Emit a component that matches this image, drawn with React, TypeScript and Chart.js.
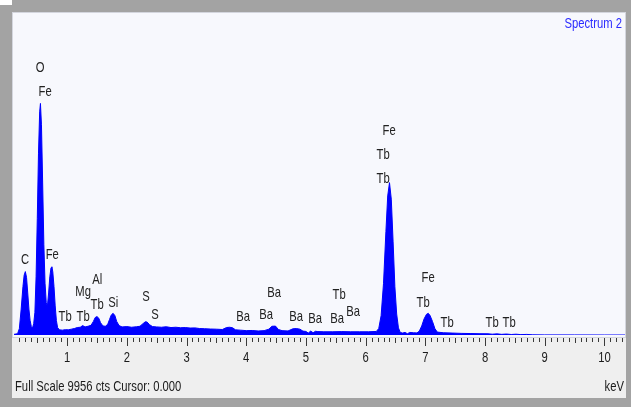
import { useEffect, useRef } from "react";
import { Chart, registerables } from "chart.js";

Chart.register(...registerables);

// Spectrum (keV, counts)
const energies = [
  0.11, 0.17, 0.2, 0.23, 0.26, 0.28, 0.3, 0.32, 0.34, 0.36, 0.38, 0.4, 0.42, 0.44, 0.46, 0.48,
  0.5, 0.52, 0.54, 0.553, 0.57, 0.59, 0.61, 0.63, 0.65, 0.67, 0.69, 0.71, 0.73, 0.745, 0.76,
  0.78, 0.8, 0.82, 0.84, 0.87, 0.92, 0.97, 1.02, 1.07, 1.12, 1.17, 1.22, 1.26, 1.3, 1.35, 1.4,
  1.44, 1.47, 1.5, 1.53, 1.56, 1.6, 1.64, 1.68, 1.71, 1.74, 1.77, 1.8, 1.83, 1.87, 1.92, 2.0,
  2.08, 2.16, 2.22, 2.27, 2.31, 2.34, 2.38, 2.43, 2.5, 2.58, 2.66, 2.74, 2.82, 2.9, 2.98, 3.06,
  3.14, 3.22, 3.3, 3.4, 3.5, 3.6, 3.67, 3.72, 3.77, 3.82, 3.9, 4.0, 4.1, 4.2, 4.3, 4.38, 4.43,
  4.49, 4.54, 4.6, 4.7, 4.78, 4.84, 4.9, 4.95, 5.0, 5.04, 5.08, 5.12, 5.16, 5.2, 5.3, 5.45, 5.6,
  5.75, 5.9, 6.05, 6.18, 6.22, 6.26, 6.3, 6.34, 6.37, 6.4, 6.43, 6.46, 6.49, 6.52, 6.55, 6.58,
  6.62, 6.66, 6.7, 6.74, 6.8, 6.86, 6.9, 6.94, 6.98, 7.02, 7.05, 7.08, 7.12, 7.16, 7.2, 7.3,
  7.45, 7.6, 7.75, 7.9, 8.05, 8.12, 8.2, 8.28, 8.36, 8.44, 8.52, 8.6, 8.7, 8.8, 9.0, 9.5, 10.0,
  10.345,
];
const counts = [
  20, 40, 200, 800, 1500, 1850, 1960, 1780, 1300, 800, 450, 260, 220, 350, 700, 1800,
  3600, 5600, 6900, 7160, 6500, 4700, 2800, 1600, 1000, 900, 1300, 1800, 2080, 2110, 1950,
  1500, 900, 450, 230, 160, 150, 165, 160, 180, 200, 230, 240, 290, 250, 270, 300,
  420, 540, 570, 520, 380, 280, 270, 330, 480, 620, 670, 600, 420, 290, 250, 260,
  240, 255, 270, 350, 410, 400, 320, 260, 250, 240, 255, 230, 240, 225, 230, 215,
  220, 200, 195, 185, 180, 170, 230, 240, 225, 160, 150, 135, 140, 125, 135, 180, 270,
  275, 170, 135, 125, 190, 200, 180, 120, 110, 60, 120, 70, 115, 105, 100, 100, 105,
  100, 100, 100, 110, 200, 600, 1600, 3200, 4300, 4710, 4200, 2900, 1500, 650, 220, 80,
  60, 80, 40, 80, 70, 65, 120, 280, 500, 640, 670, 600, 420, 200, 90, 70,
  60, 50, 45, 40, 38, 25, 35, 20, 30, 15, 25, 12, 18, 5, 3, 2, 0,
  0,
];

// Peak labels: text, keV position, counts level
const labelTexts = [
  "C", "O", "Fe", "Fe", "Tb", "Tb", "Mg", "Al", "Tb", "Si", "S", "S",
  "Ba", "Ba", "Ba", "Ba", "Ba", "Tb", "Ba", "Ba",
  "Fe", "Tb", "Tb", "Fe", "Tb", "Tb", "Tb", "Tb",
];
const labelKeV = [
  0.296, 0.548, 0.631, 0.75, 0.966, 1.268, 1.268, 1.503, 1.503, 1.771, 2.323, 2.474,
  3.948, 4.333, 4.467, 4.836, 5.154, 5.556, 5.523, 5.79,
  6.394, 6.293, 6.293, 7.047, 6.963, 7.365, 8.119, 8.404,
];
const labelCts = [
  2319, 8256, 7514, 2474, 557, 557, 1330, 1700, 928, 989, 1175, 618,
  557, 618, 1299, 557, 495, 1237, 495, 711,
  6308, 5566, 4824, 1762, 989, 371, 371, 371,
];

const majorTicks = [1, 2, 3, 4, 5, 6, 7, 8, 9, 10];
const fullScale = 9956;
const xMin = 0.11;
const xMax = 10.345;
const titleText = "Spectrum 2";
const statusText = "Full Scale 9956 cts Cursor: 0.000";
const unitText = "keV";

const FONT = "15px 'Liberation Sans', Arial, sans-serif";

function condensedText(
  ctx: CanvasRenderingContext2D,
  text: string,
  x: number,
  y: number,
  align: CanvasTextAlign,
  color: string
) {
  ctx.save();
  ctx.font = FONT;
  ctx.fillStyle = color;
  ctx.textAlign = align;
  ctx.textBaseline = "middle";
  ctx.translate(x, y);
  ctx.scale(0.75, 1);
  ctx.fillText(text, 0, 0);
  ctx.restore();
}

const framePlugin = {
  id: "eds-frame",
  beforeDraw(chart: any) {
    const { ctx, width, height, chartArea } = chart;
    ctx.save();
    ctx.fillStyle = "#a3a3a3";
    ctx.fillRect(0, 0, width, height);
    ctx.fillStyle = "#ffffff";
    ctx.fillRect(0, 0, 12, 5);
    // lower panel
    ctx.fillStyle = "#efefef";
    ctx.fillRect(12, 12, chartArea.right + 1 - 12, 398 - 12);
    // plot background
    ctx.fillStyle = "#f7f8fd";
    ctx.fillRect(13, 13, chartArea.right - 13, chartArea.bottom + 2 - 13);
    ctx.strokeStyle = "#d4d6de";
    ctx.lineWidth = 1;
    ctx.strokeRect(12.5, 12.5, chartArea.right - 12, chartArea.bottom + 2 - 12);
    ctx.restore();
  },
  afterDatasetsDraw(chart: any) {
    const { ctx, chartArea } = chart;
    const xs = chart.scales.x;
    const ys = chart.scales.y;
    ctx.save();
    // ticks
    ctx.strokeStyle = "#3a3a3a";
    ctx.lineWidth = 1;
    const top = chartArea.bottom + 3;
    for (let i = Math.ceil(xMin * 10); i <= Math.floor(xMax * 10); i++) {
      const v = i / 10;
      const px = Math.round(xs.getPixelForValue(v)) + 0.5;
      const major = i % 10 === 0;
      const len = major ? 8 : i % 5 === 0 ? 5 : 4;
      ctx.beginPath();
      ctx.moveTo(px, top);
      ctx.lineTo(px, top + len);
      ctx.stroke();
    }
    ctx.restore();
    for (const t of majorTicks) {
      condensedText(ctx, String(t), xs.getPixelForValue(t), 358, "center", "#1a1a1a");
    }
    // peak labels
    for (let i = 0; i < labelTexts.length; i++) {
      condensedText(
        ctx,
        labelTexts[i],
        xs.getPixelForValue(labelKeV[i]),
        ys.getPixelForValue(labelCts[i]),
        "center",
        "#222222"
      );
    }
    condensedText(ctx, titleText, chartArea.right - 3, 24, "right", "#2a2aff");
    condensedText(ctx, statusText, 15, 387, "left", "#1a1a1a");
    condensedText(ctx, unitText, chartArea.right - 1, 387, "right", "#1a1a1a");
  },
};

export default function App() {
  const ref = useRef<HTMLCanvasElement | null>(null);
  useEffect(() => {
    document.body.style.margin = "0";
    const canvas = ref.current;
    if (!canvas) return;
    const points = energies.map((e, i) => ({ x: e, y: counts[i] }));
    const chart = new Chart(canvas, {
      type: "line",
      data: {
        datasets: [
          {
            data: points,
            borderColor: "#0000ff",
            backgroundColor: "#0000ff",
            borderWidth: 1,
            pointRadius: 0,
            tension: 0,
            fill: "origin",
          },
        ],
      },
      options: {
        animation: false,
        responsive: false,
        devicePixelRatio: 1,
        layout: { padding: { left: 14, top: 13, right: 6, bottom: 72 } },
        plugins: { legend: { display: false }, tooltip: { enabled: false } },
        scales: {
          x: { type: "linear", min: xMin, max: xMax, display: false },
          y: { type: "linear", min: 0, max: fullScale, display: false },
        },
      },
      plugins: [framePlugin],
    });
    return () => chart.destroy();
  }, []);
  return (
    <div style={{ width: 631, height: 407 }}>
      <canvas ref={ref} width={631} height={407} style={{ display: "block" }} />
    </div>
  );
}
